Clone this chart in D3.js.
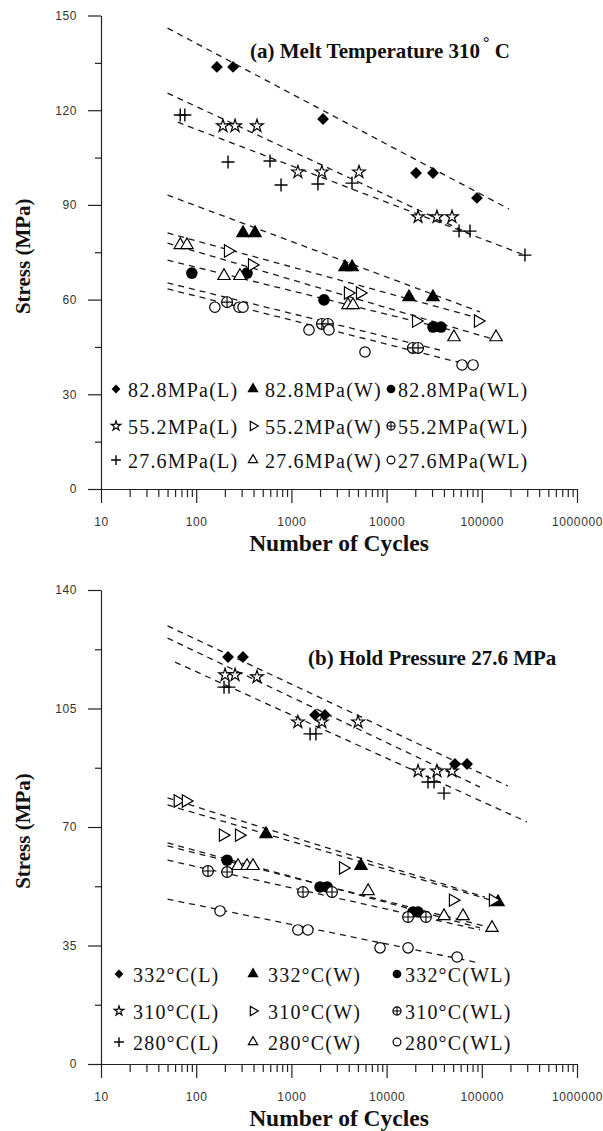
<!DOCTYPE html>
<html>
<head>
<meta charset="utf-8">
<script src="https://cdn.jsdelivr.net/npm/d3@7"></script>
<style>
    body { margin: 0; background: #fff; }
    .tick text { font-family: "Liberation Sans", Arial, sans-serif; font-size: 12px; letter-spacing: 0.6px; fill: #333; }
    .tick line, .domain { stroke: #222; stroke-width: 1.2; }
    .axis-title { font-family: "Liberation Serif", "Times New Roman", serif; font-weight: bold; font-size: 21px; fill: #111; }
    .x-title { font-size: 23.5px; }
    .panel-title { font-family: "Liberation Serif", "Times New Roman", serif; font-weight: bold; font-size: 21px; fill: #111; }
    .legend text { font-family: "Liberation Serif", "Times New Roman", serif; font-size: 20px; letter-spacing: 1.2px; fill: #111; }
    .fit { fill: none; stroke: #1a1a1a; stroke-width: 1.3; stroke-dasharray: 6,5; }
</style>
</head>
<body>
<div id="graphHolder"></div>
<script>
'use strict'
// series order: row by row of the legend (L, W, WL)
var symbolKinds = ["diamond", "triangle", "dot", "star", "triangleRight", "crossCircle", "plus", "triangleOpen", "circleOpen"];
var xTicks = [10, 100, 1000, 10000, 100000, 1000000];

// (a) melt temperature 310 C
var labelsA = ["82.8MPa(L)", "82.8MPa(W)", "82.8MPa(WL)",
               "55.2MPa(L)", "55.2MPa(W)", "55.2MPa(WL)",
               "27.6MPa(L)", "27.6MPa(W)", "27.6MPa(WL)"];
var yTicksA = [0, 30, 60, 90, 120, 150];
var cyclesA = [
    [165, 244, 2150, 20400, 30700, 89000],
    [310, 415, 3660, 4340, 17200, 30700],
    [90, 342, 2200, 30700, 37200],
    [191, 256, 435, 1170, 2090, 5130, 21400, 33800, 48600],
    [216, 386, 3930, 5260, 20400, 91200],
    [211, 2090, 2420, 18900, 21400],
    [68, 76, 216, 596, 778, 1900, 4330, 57700, 75200, 284000],
    [68, 80, 196, 288, 3930, 4440, 51000, 141000],
    [157, 282, 310, 1530, 2480, 5930, 62000, 80900]
];
var stressA = [
    [133.7, 133.7, 117.2, 100.1, 100.1, 92.2],
    [81.1, 81.1, 70.3, 70.3, 60.8, 60.8],
    [68.4, 68.4, 59.9, 51.3, 51.3],
    [115.0, 115.0, 115.0, 100.4, 100.4, 100.4, 86.2, 86.2, 86.2],
    [75.4, 71.0, 62.1, 62.1, 53.2, 53.2],
    [59.2, 52.3, 52.3, 44.7, 44.7],
    [118.5, 118.5, 103.6, 103.9, 96.3, 96.6, 96.9, 81.7, 81.7, 74.1],
    [77.3, 77.3, 67.5, 67.5, 58.3, 58.3, 48.1, 48.1],
    [57.6, 57.6, 57.6, 50.4, 50.4, 43.4, 39.3, 39.3]
];
// fitted curves: [cycles, stress] at both ends
var fitsA = [
    [[50, 146.0], [193000, 88.7]],
    [[50, 93.1], [95700, 56.1]],
    [[50, 72.5], [46300, 50.4]],
    [[50, 125.4], [75000, 80.8]],
    [[50, 81.1], [91200, 54.2]],
    [[50, 65.3], [36400, 44.0]],
    [[64, 116.2], [298000, 73.8]],
    [[50, 77.9], [141000, 47.2]],
    [[50, 63.4], [91200, 38.6]]
];

// (b) hold pressure 27.6 MPa
var labelsB = ["332°C(L)", "332°C(W)", "332°C(WL)",
               "310°C(L)", "310°C(W)", "310°C(WL)",
               "280°C(L)", "280°C(W)", "280°C(WL)"];
var yTicksB = [0, 35, 70, 105, 140];
var cyclesB = [
    [216, 310, 1770, 2250, 52200, 70000],
    [541, 5380, 148000],
    [211, 2000, 2370, 18900, 21400],
    [201, 256, 435, 1170, 2090, 5010, 21400, 33800, 48600],
    [64, 78, 191, 282, 3490, 49800, 131000],
    [133, 211, 1325, 2670, 16800, 25900],
    [196, 221, 1570, 1810, 27200, 31500, 40100],
    [275, 342, 395, 6390, 40100, 63500, 128000],
    [178, 1170, 1490, 8530, 16800, 55000]
];
var stressB = [
    [120.2, 120.2, 103.1, 103.1, 88.6, 88.6],
    [67.9, 58.5, 47.8],
    [60.2, 52.3, 52.3, 44.9, 44.9],
    [114.9, 114.9, 114.3, 101.0, 101.0, 101.0, 86.5, 86.5, 86.5],
    [77.7, 77.7, 67.6, 67.6, 57.9, 48.4, 48.4],
    [57.0, 56.7, 50.8, 50.8, 43.4, 43.4],
    [111.3, 111.3, 97.5, 97.5, 83.3, 83.3, 80.0],
    [58.5, 58.5, 58.5, 51.1, 43.7, 43.7, 40.2],
    [45.2, 39.6, 39.6, 34.3, 34.3, 31.6]
];
var fitsB = [
    [[50, 129.4], [188000, 82.1]],
    [[50, 76.5], [148000, 47.8]],
    [[50, 65.3], [95700, 40.2]],
    [[50, 125.8], [95700, 81.8]],
    [[50, 78.6], [108000, 49.3]],
    [[50, 60.2], [95700, 39.6]],
    [[60, 118.7], [298000, 71.5]],
    [[50, 64.4], [128000, 40.2]],
    [[50, 48.7], [95700, 29.8]]
];

function appendMarker(g, kind, k) {
    var s = k || 1;
    if (kind === "diamond") {
        g.append("path")
                .attr("d", d3.symbol(d3.symbolSquare, 70 * s * s)())
                .attr("transform", "rotate(45)")
                .attr("fill", "#000");
    } else if (kind === "triangle" || kind === "triangleOpen" || kind === "triangleRight") {
        g.append("path")
                .attr("d", d3.symbol(d3.symbolTriangle, 66 * s * s)())
                .attr("transform", kind === "triangleRight" ? "rotate(90)" : null)
                .attr("fill", kind === "triangle" ? "#000" : "#fff")
                .attr("stroke", "#000")
                .attr("stroke-width", 1.2);
    } else if (kind === "dot") {
        g.append("circle").attr("r", 5.8 * s).attr("fill", "#000");
    } else if (kind === "circleOpen") {
        g.append("circle").attr("r", 5.2 * s)
                .attr("fill", "#fff").attr("stroke", "#000").attr("stroke-width", 1.2);
    } else if (kind === "crossCircle") {
        g.append("circle").attr("r", 5.4 * s)
                .attr("fill", "#fff").attr("stroke", "#000").attr("stroke-width", 1.2);
        g.append("path").attr("d", "M" + (-5.4 * s) + ",0H" + (5.4 * s) + "M0," + (-5.4 * s) + "V" + (5.4 * s))
                .attr("stroke", "#000").attr("stroke-width", 1.1);
    } else if (kind === "star") {
        g.append("path")
                .attr("d", d3.symbol(d3.symbolStar, 50 * s * s)())
                .attr("fill", "#fff").attr("stroke", "#000").attr("stroke-width", 1.2);
    } else if (kind === "plus") {
        g.append("path").attr("d", "M" + (-6.5 * s) + ",0H" + (6.5 * s) + "M0," + (-6.5 * s) + "V" + (6.5 * s))
                .attr("stroke", "#000").attr("stroke-width", 1.4);
    }
}

function fatiguePanel() {
    var _panel = {};
    var _svg, _x, _y, _cycles, _stress, _fits, _labels, _yTicks,
        _top, _bottom, _title, _titleX, _titleY, _legendY, _legendCols;

    _panel.render = function () {
        _x = d3.scaleLog().domain([10, 1000000]).range([101, 577]);
        _y = d3.scaleLinear().domain([0, d3.max(_yTicks)]).range([_bottom, _top]);

        renderAxes();
        renderFits();
        renderPoints();
        renderLegend();
        renderTitles();
        return _panel;
    };

    function renderAxes() {
        var step = _yTicks[1] - _yTicks[0];
        var minorY = _yTicks.slice(1).map(function (t) { return t - step / 2; });

        _svg.append("g")
                .attr("class", "y axis")
                .attr("transform", "translate(101,0)")
                .call(d3.axisLeft(_y).tickValues(_yTicks).tickSize(13).tickSizeOuter(0).tickPadding(11));

        _svg.append("g")
                .attr("class", "y minor")
                .attr("transform", "translate(101,0)")
                .call(d3.axisLeft(_y).tickValues(minorY).tickSize(6).tickSizeOuter(0).tickFormat(""));

        var minorX = [];
        xTicks.slice(0, -1).forEach(function (d) {
            for (var m = 2; m < 10; m++) minorX.push(d * m);
        });

        _svg.append("g")
                .attr("class", "x axis")
                .attr("transform", "translate(0," + _bottom + ")")
                .call(d3.axisBottom(_x).tickValues(xTicks).tickSize(14).tickSizeOuter(0)
                        .tickPadding(14).tickFormat(d3.format("d")));

        _svg.append("g")
                .attr("class", "x minor")
                .attr("transform", "translate(0," + _bottom + ")")
                .call(d3.axisBottom(_x).tickValues(minorX).tickSize(8).tickSizeOuter(0).tickFormat(""));

        _svg.selectAll(".minor .domain").remove();
    }

    function renderFits() {
        var line = d3.line()
                .x(function (d) { return _x(d[0]); })
                .y(function (d) { return _y(d[1]); });

        _svg.append("g").selectAll("path.fit")
                .data(_fits)
                .enter()
                .append("path")
                .attr("class", "fit")
                .attr("d", line);
    }

    function renderPoints() {
        _cycles.forEach(function (series, i) {
            series.forEach(function (n, j) {
                var g = _svg.append("g")
                        .attr("transform", "translate(" + _x(n) + "," + _y(_stress[i][j]) + ")");
                appendMarker(g, symbolKinds[i], 1);
            });
        });
    }

    function renderLegend() {
        var lg = _svg.append("g").attr("class", "legend");
        _labels.forEach(function (label, i) {
            var row = Math.floor(i / 3), col = i % 3;
            var g = lg.append("g")
                    .attr("transform", "translate(" + _legendCols[col][0] + "," + _legendY[row] + ")");
            appendMarker(g.append("g").attr("transform", "translate(0,-1)"), symbolKinds[i], 0.75);
            g.append("text")
                    .attr("x", _legendCols[col][1] - _legendCols[col][0])
                    .attr("y", 7)
                    .text(label);
        });
    }

    function renderTitles() {
        var t = _svg.append("text")
                .attr("class", "panel-title")
                .attr("x", _titleX)
                .attr("y", _titleY);
        t.append("tspan").text(_title[0]);
        if (_title.length > 1) {
            t.append("tspan").attr("dy", -10).attr("dx", 3).attr("font-size", 16).text(_title[1]);
            t.append("tspan").attr("dy", 10).text(_title[2]);
        }

        _svg.append("text")
                .attr("class", "axis-title x-title")
                .attr("x", 339)
                .attr("y", _bottom + 62)
                .attr("text-anchor", "middle")
                .text("Number of Cycles");

        var cy = (_top + _bottom) / 2 + 4;
        _svg.append("text")
                .attr("class", "axis-title")
                .attr("transform", "translate(30," + cy + ") rotate(-90)")
                .attr("text-anchor", "middle")
                .text("Stress (MPa)");
    }

    _panel.svg = function (s) { _svg = s; return _panel; };
    _panel.data = function (c, s, f) { _cycles = c; _stress = s; _fits = f; return _panel; };
    _panel.labels = function (l) { _labels = l; return _panel; };
    _panel.yTicks = function (t) { _yTicks = t; return _panel; };
    _panel.extent = function (top, bottom) { _top = top; _bottom = bottom; return _panel; };
    _panel.title = function (t, x, y) { _title = t; _titleX = x; _titleY = y; return _panel; };
    _panel.legend = function (rows, cols) { _legendY = rows; _legendCols = cols; return _panel; };
    return _panel;
}

var svg = d3.select("#graphHolder").append("svg")
        .attr("width", 603)
        .attr("height", 1131);

fatiguePanel()
        .svg(svg.append("g").attr("class", "panel-a"))
        .data(cyclesA, stressA, fitsA)
        .labels(labelsA)
        .yTicks(yTicksA)
        .extent(15.5, 489)
        .title(["(a) Melt Temperature 310", "°", " C"], 250, 58)
        .legend([390, 427, 461], [[116, 128], [253, 265], [391, 398]])
        .render();

fatiguePanel()
        .svg(svg.append("g").attr("class", "panel-b"))
        .data(cyclesB, stressB, fitsB)
        .labels(labelsB)
        .yTicks(yTicksB)
        .extent(590, 1064)
        .title(["(b) Hold Pressure 27.6 MPa"], 308, 665)
        .legend([975, 1012, 1043], [[119, 133], [253, 268], [397, 405]])
        .render();
</script>
</body>
</html>
